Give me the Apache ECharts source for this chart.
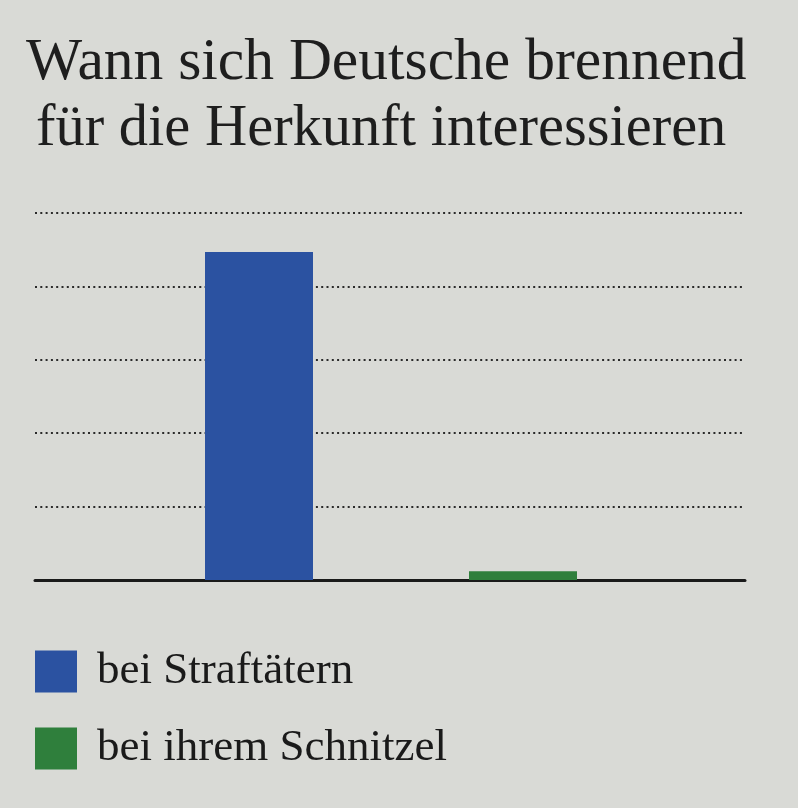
<!DOCTYPE html>
<html>
<head>
<meta charset="utf-8">
<script src="https://cdn.jsdelivr.net/npm/echarts@6/dist/echarts.min.js"></script>
<style>
html,body{margin:0;padding:0;background:#d9dad6;}
#chart{width:798px;height:808px;}
</style>
</head>
<body>
<div id="chart"></div>
<script>
// ---- data ----
const titleLines = ['Wann sich Deutsche brennend', 'für die Herkunft interessieren'];
const categories = ['bei Straftätern', 'bei ihrem Schnitzel'];
const values = [4.47, 0.12];
const colors = ['#2b52a1', '#2f7f3c'];
const yMax = 5;
const yInterval = 1;

const chart = echarts.init(document.getElementById('chart'));
const serif = '"Liberation Serif", "DejaVu Serif", serif';

const barSeries = categories.map((name, i) => ({
  name: name,
  type: 'bar',
  xAxisIndex: 1,
  yAxisIndex: 1,
  barWidth: 108,
  barGap: '-100%',
  itemStyle: { color: colors[i] },
  data: categories.map((c, j) => (j === i ? values[i] : null)),
  z: 3
}));

chart.setOption({
  backgroundColor: '#d9dad6',
  animation: false,
  title: [
    { text: titleLines[0], left: 21, top: 28,
      textStyle: { fontFamily: serif, fontSize: 59.5, fontWeight: 'normal', color: '#1e1e1e' } },
    { text: titleLines[1], left: 31, top: 95,
      textStyle: { fontFamily: serif, fontSize: 58.5, fontWeight: 'normal', color: '#1e1e1e' } }
  ],
  legend: {
    orient: 'vertical',
    left: 30,
    top: 644,
    itemWidth: 42,
    itemHeight: 42,
    itemGap: 32,
    icon: 'rect',
    data: categories,
    textStyle: { fontFamily: serif, fontSize: 45, color: '#1a1a1a', padding: [0, 0, 0, 15] }
  },
  grid: [
    { left: 35, right: 53, top: 213, height: 367 },
    { left: 127, width: 528, top: 213, height: 367 }
  ],
  xAxis: [
    { type: 'value', gridIndex: 0, min: 0, max: 1,
      axisLine: { show: true, onZero: false, lineStyle: { color: '#1a1a1a', width: 3 } },
      axisTick: { show: false }, axisLabel: { show: false }, splitLine: { show: false } },
    { type: 'category', gridIndex: 1, data: categories,
      axisLine: { show: false }, axisTick: { show: false }, axisLabel: { show: false }, splitLine: { show: false } }
  ],
  yAxis: [
    { type: 'value', gridIndex: 0, min: 0, max: yMax, interval: yInterval,
      axisLine: { show: false }, axisTick: { show: false }, axisLabel: { show: false },
      splitLine: { show: true, lineStyle: { color: '#2a2a2a', width: 2, type: [2, 3.3] } } },
    { type: 'value', gridIndex: 1, min: 0, max: yMax, interval: yInterval,
      axisLine: { show: false }, axisTick: { show: false }, axisLabel: { show: false },
      splitLine: { show: false } }
  ],
  series: barSeries
});
</script>
</body>
</html>
